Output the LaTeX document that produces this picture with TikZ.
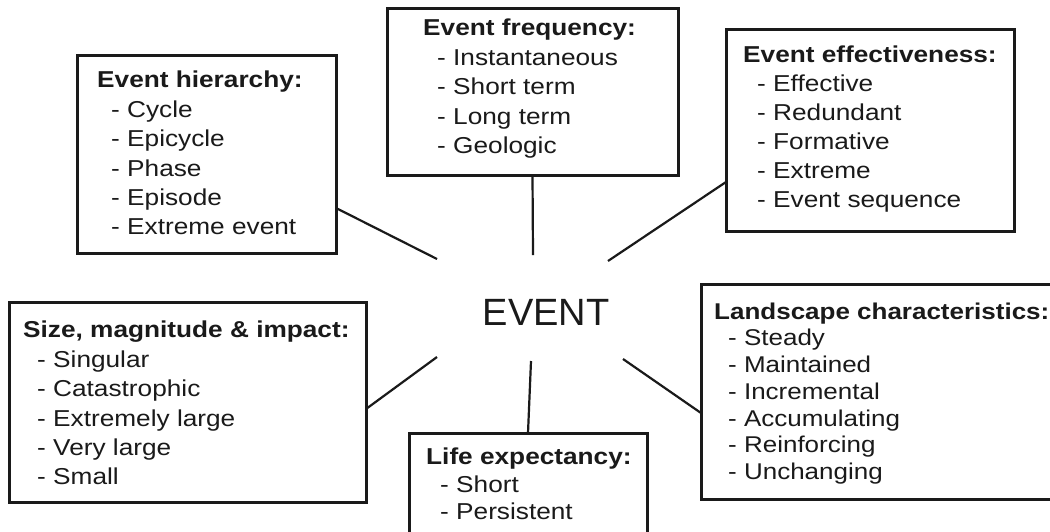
\documentclass[tikz,border=0pt]{standalone}
\usepackage{fontspec}
\setmainfont[FakeStretch=1.14]{Liberation Sans}
\newfontfamily\eventfont{Liberation Sans}
\usetikzlibrary{positioning}

\newlength{\entryindent}
\setlength{\entryindent}{14pt}
\newcommand{\listentry}[1]{\hspace*{\entryindent}- #1}

\definecolor{inkgray}{HTML}{1A1A1A}

\tikzset{
  topic/.style={draw=inkgray, line width=3pt, fill=white, inner sep=0pt, outer sep=0pt, anchor=north west},
  topictext/.style={text=inkgray, align=left, inner sep=0pt, anchor=north west,
    font=\fontsize{23pt}{29.4pt}\selectfont},
  spoke/.style={draw=inkgray, line width=2.2pt}
}

\begin{document}
\begin{tikzpicture}[x=1pt, y=-1pt]
  \useasboundingbox[fill=white] (0,0) rectangle (1050,531);

  % boxes
  \node[topic, minimum width=259pt, minimum height=198pt] (hier) at (77,55) {};
  \node[topic, minimum width=291pt, minimum height=167pt] (freq) at (387,8) {};
  \node[topic, minimum width=288pt, minimum height=202pt] (eff) at (726,29) {};
  \node[topic, minimum width=357pt, minimum height=200pt] (size) at (9,302) {};
  \node[topic, minimum width=238pt, minimum height=140pt] (life) at (409,433) {};
  \node[topic, minimum width=380pt, minimum height=215pt] (land) at (701,284) {};

  % texts
  \node[topictext] (hiertext) at (97,71) {\textbf{Event hierarchy:}\\
    \listentry{Cycle}\\ \listentry{Epicycle}\\ \listentry{Phase}\\
    \listentry{Episode}\\ \listentry{Extreme event}};
  \node[topictext] (freqtext) at (423,19) {\textbf{Event frequency:}\\
    \listentry{Instantaneous}\\ \listentry{Short term}\\
    \listentry{Long term}\\ \listentry{Geologic}};
  \node[topictext, font=\fontsize{23pt}{29pt}\selectfont] (efftext) at (743,46) {\textbf{Event effectiveness:}\\
    \listentry{Effective}\\ \listentry{Redundant}\\ \listentry{Formative}\\
    \listentry{Extreme}\\ \listentry{Event sequence}};
  \node[topictext] (sizetext) at (23,321) {\textbf{Size, magnitude \& impact:}\\
    \listentry{Singular}\\ \listentry{Catastrophic}\\ \listentry{Extremely large}\\
    \listentry{Very large}\\ \listentry{Small}};
  \node[topictext, font=\fontsize{23pt}{27.5pt}\selectfont] (lifetext) at (426,448) {\textbf{Life expectancy:}\\
    \listentry{Short}\\ \listentry{Persistent}};
  \node[topictext, font=\fontsize{22.8pt}{26.7pt}\selectfont] (landtext) at (714,302.5) {\textbf{Landscape characteristics:}\\
    \listentry{Steady}\\ \listentry{Maintained}\\ \listentry{Incremental}\\
    \listentry{Accumulating}\\ \listentry{Reinforcing}\\ \listentry{Unchanging}};

  \node[text=inkgray, font=\eventfont\fontsize{38pt}{40pt}\selectfont, inner sep=0pt] (event) at (546,312) {EVENT};

  % spoke ends round the centre
  \coordinate (hierend) at (437,259);
  \coordinate (freqend) at (533,255);
  \coordinate (effend) at (608,261);
  \coordinate (sizeend) at (437,357);
  \coordinate (lifeend) at (531,361);
  \coordinate (landend) at (623,359);

  \draw[spoke] ([yshift=-54pt]hier.east) -- (hierend);
  \draw[spoke] (freq.south) -- (freqend);
  \draw[spoke] ([yshift=-52pt]eff.west) -- (effend);
  \draw[spoke] ([yshift=-7pt]size.east) -- (sizeend);
  \draw[spoke] (life.north) -- (lifeend);
  \draw[spoke] ([yshift=-21.5pt]land.west) -- (landend);
\end{tikzpicture}
\end{document}
